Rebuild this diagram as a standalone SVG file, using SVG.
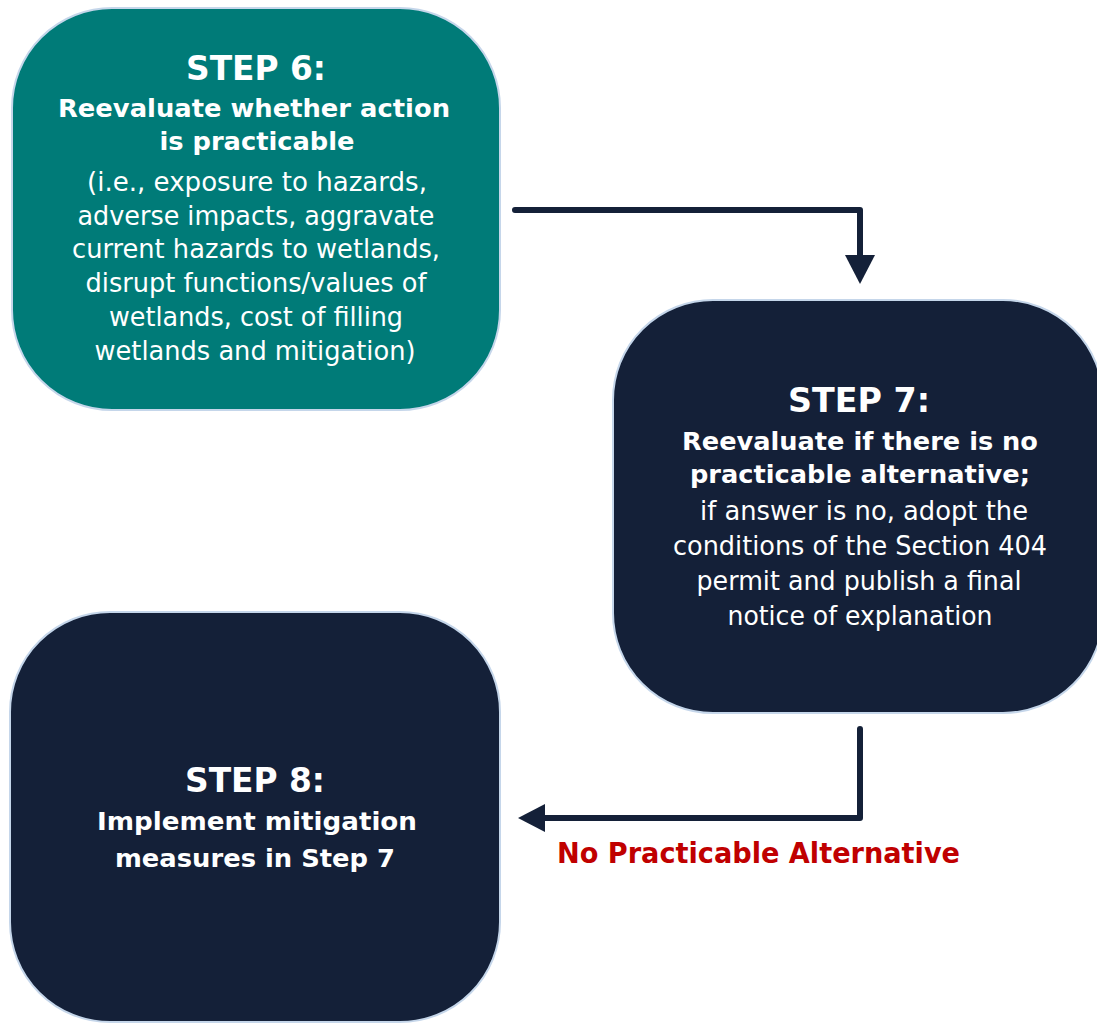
<svg xmlns="http://www.w3.org/2000/svg" width="1097" height="1023" viewBox="0 0 1097 1023">
<defs>
<style>
.box{stroke:#c5d6ea;stroke-width:2}
.teal{fill:#007b78}
.navy{fill:#142038}
text{font-family:"DejaVu Sans","Liberation Sans",sans-serif;fill:#ffffff;text-anchor:middle}
.h{font-size:34px;font-weight:bold}
.b{font-size:25px;font-weight:bold}
.r{font-size:26px}
.lbl{font-size:28px;font-weight:bold;fill:#c00000;text-anchor:start}
.conn{fill:none;stroke:#142038;stroke-width:6;stroke-linecap:round;stroke-linejoin:round}
</style>
</defs>
<rect width="1097" height="1023" fill="#ffffff"/>
<g id="step6">
<rect class="box teal" x="12" y="8" width="488" height="402" rx="100" ry="100"/>
<text class="h" x="256" y="80" textLength="140" lengthAdjust="spacingAndGlyphs">STEP 6:</text>
<text class="b" x="254" y="117" textLength="392" lengthAdjust="spacingAndGlyphs">Reevaluate whether action</text>
<text class="b" x="257" y="150" textLength="195" lengthAdjust="spacingAndGlyphs">is practicable</text>
<text class="r" x="257" y="191" textLength="340" lengthAdjust="spacingAndGlyphs">(i.e., exposure to hazards,</text>
<text class="r" x="256" y="225" textLength="357" lengthAdjust="spacingAndGlyphs">adverse impacts, aggravate</text>
<text class="r" x="256" y="258" textLength="368" lengthAdjust="spacingAndGlyphs">current hazards to wetlands,</text>
<text class="r" x="256" y="292" textLength="341" lengthAdjust="spacingAndGlyphs">disrupt functions/values of</text>
<text class="r" x="256" y="326" textLength="294" lengthAdjust="spacingAndGlyphs">wetlands, cost of filling</text>
<text class="r" x="255" y="360" textLength="321" lengthAdjust="spacingAndGlyphs">wetlands and mitigation)</text>
</g>
<g id="step7">
<rect class="box navy" x="613" y="300" width="490" height="413" rx="100" ry="100"/>
<text class="h" x="859" y="412" textLength="142" lengthAdjust="spacingAndGlyphs">STEP 7:</text>
<text class="b" x="860" y="450" textLength="356" lengthAdjust="spacingAndGlyphs">Reevaluate if there is no</text>
<text class="b" x="860" y="483" textLength="340" lengthAdjust="spacingAndGlyphs">practicable alternative;</text>
<text class="r" x="864" y="520" textLength="328" lengthAdjust="spacingAndGlyphs">if answer is no, adopt the</text>
<text class="r" x="860" y="555" textLength="374" lengthAdjust="spacingAndGlyphs">conditions of the Section 404</text>
<text class="r" x="859" y="590" textLength="325" lengthAdjust="spacingAndGlyphs">permit and publish a final</text>
<text class="r" x="860" y="625" textLength="265" lengthAdjust="spacingAndGlyphs">notice of explanation</text>
</g>
<g id="step8">
<rect class="box navy" x="10" y="612" width="490" height="410" rx="100" ry="100"/>
<text class="h" x="255" y="792" textLength="140" lengthAdjust="spacingAndGlyphs">STEP 8:</text>
<text class="b" x="257" y="830" textLength="320" lengthAdjust="spacingAndGlyphs">Implement mitigation</text>
<text class="b" x="255" y="867" textLength="280" lengthAdjust="spacingAndGlyphs">measures in Step 7</text>
</g>
<g id="connectors">
<path class="conn" d="M515,210 H860 V258"/>
<path d="M845,255 L875,255 L860,284 Z" fill="#142038"/>
<path class="conn" d="M860,729 V818 H540"/>
<path d="M545,804 L545,832 L518,818 Z" fill="#142038"/>
<text class="lbl" x="557" y="863" textLength="403" lengthAdjust="spacingAndGlyphs">No Practicable Alternative</text>
</g>
</svg>
